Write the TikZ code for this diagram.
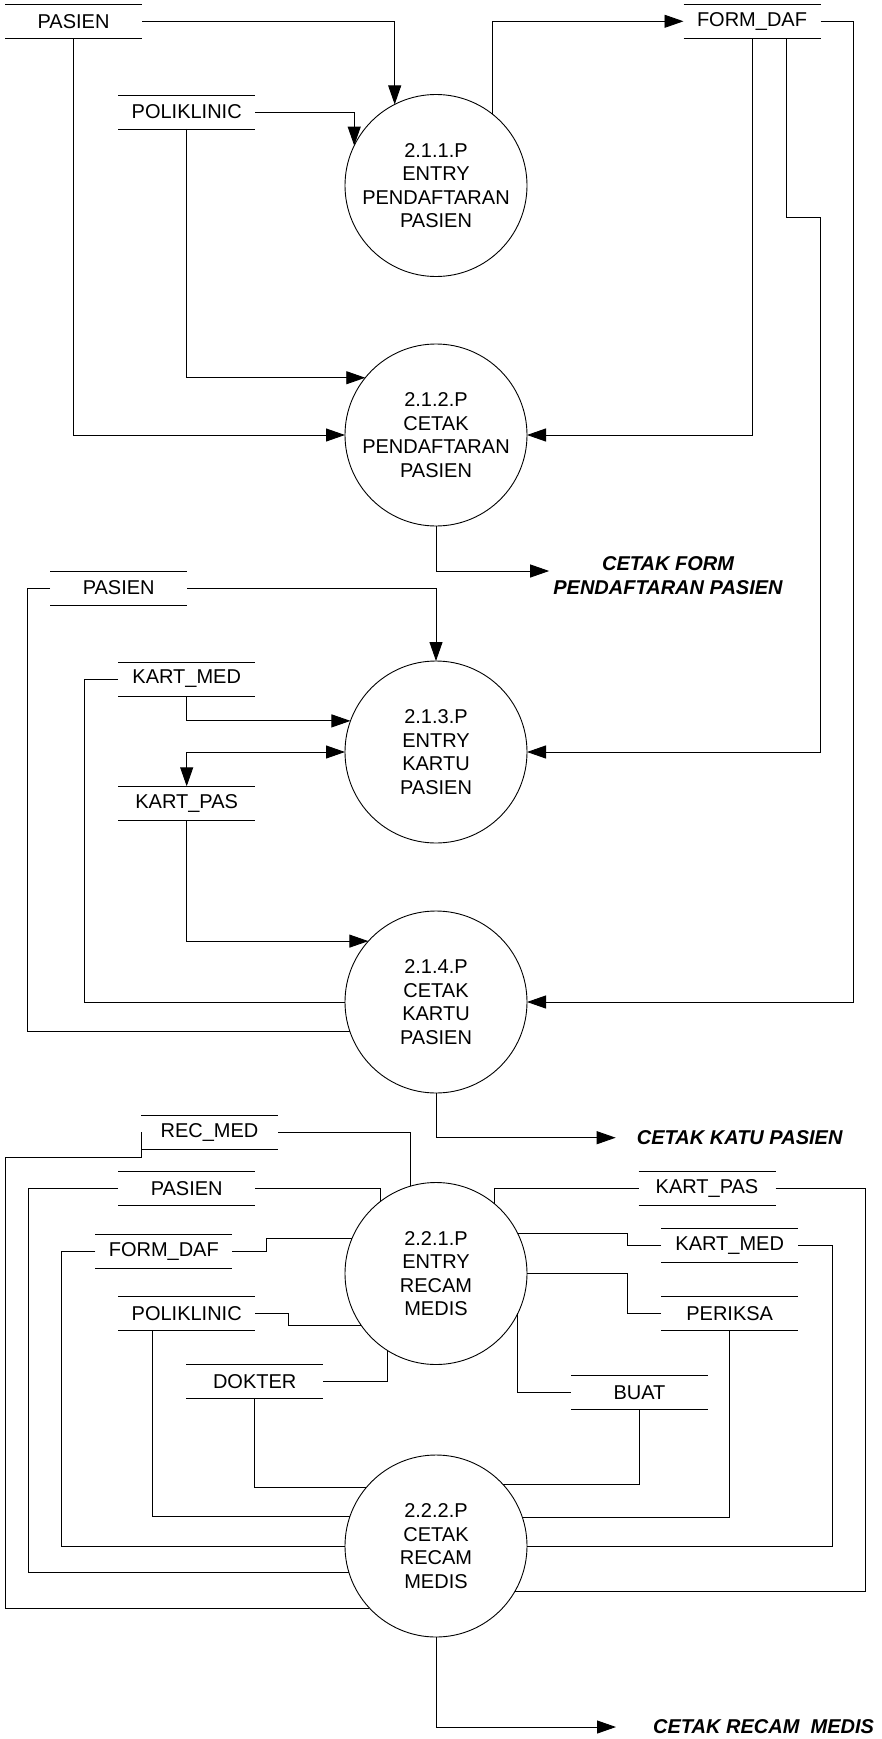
\documentclass[tikz,border=0pt]{standalone}
\usepackage{fontspec}
\setmainfont{Liberation Sans}
\usetikzlibrary{arrows.meta,calc}

\begin{document}
\begin{tikzpicture}[x=1pt,y=-1pt,
  every node/.style={font=\fontsize{20}{23.5}\selectfont},
  process/.style={circle,draw,line width=0.9pt,minimum size=182pt,inner sep=0pt,outer sep=0pt,align=center},
  storeline/.style={draw,line width=0.9pt},
  store/.style={minimum width=137pt,minimum height=34pt,inner sep=0pt,outer sep=0pt,
    append after command={(\tikzlastnode.north west) edge[storeline] (\tikzlastnode.north east)
                          (\tikzlastnode.south west) edge[storeline] (\tikzlastnode.south east)}},
  conn/.style={draw,line width=0.9pt},
  flow/.style={conn,-{Triangle[length=19pt,width=13pt]}},
  flowboth/.style={conn,{Triangle[length=19pt,width=13pt]}-{Triangle[length=19pt,width=13pt]}},
  outlabel/.style={font=\fontsize{20}{24}\selectfont\bfseries\itshape,align=center,inner sep=0pt}
]
\useasboundingbox (0,0) rectangle (882,1739);

% ---------- processes ----------
\node[process] (p1) at (436,185.5) {2.1.1.P\\ENTRY\\PENDAFTARAN\\PASIEN};
\node[process] (p2) at (436,435)   {2.1.2.P\\CETAK\\PENDAFTARAN\\PASIEN};
\node[process] (p3) at (436,752)   {2.1.3.P\\ENTRY\\KARTU\\PASIEN};
\node[process] (p4) at (436,1002)  {2.1.4.P\\CETAK\\KARTU\\PASIEN};
\node[process] (p5) at (436,1273.5){2.2.1.P\\ENTRY\\RECAM\\MEDIS};
\node[process] (p6) at (436,1546)  {2.2.2.P\\CETAK\\RECAM\\MEDIS};

% ---------- data stores ----------
\node[store] (pasA)  at (73.5,21.3)   {PASIEN};
\node[store] (poliA) at (186.7,112)   {POLIKLINIC};
\node[store] (fdA)   at (752,21.3)    {FORM\_DAF};
\node[store] (pasB)  at (118.7,588)   {PASIEN};
\node[store] (kmA)   at (186.7,679)   {KART\_MED};
\node[store] (kpA)   at (186.7,803.3) {KART\_PAS};
\node[store] (rm)    at (209.5,1132)  {REC\_MED};
\node[store] (pasC)  at (186.7,1188.8){PASIEN};
\node[store] (kpB)   at (707,1188.8)  {KART\_PAS};
\node[store] (fdB)   at (163.8,1251)  {FORM\_DAF};
\node[store] (kmB)   at (729.7,1245.7){KART\_MED};
\node[store] (poliB) at (186.7,1313.7){POLIKLINIC};
\node[store] (per)   at (729.7,1313.7){PERIKSA};
\node[store] (dok)   at (254.7,1381.5){DOKTER};
\node[store] (buat)  at (639.5,1392.8){BUAT};

% ---------- outputs ----------
\node[outlabel] (outA) at (668,575.3) {CETAK FORM\\PENDAFTARAN PASIEN};
\node[outlabel,anchor=west] (outB) at (636.7,1137.7) {CETAK KATU PASIEN};
\node[outlabel,anchor=west] (outC) at (653,1727) {CETAK RECAM\ \ MEDIS};

% ---------- registration ----------
\draw[flow] (pasA.east) -| (p1.117.5);
\draw[flow] (poliA.east) -| (p1.154.3);
\draw[flow] (p1.52.3) |- (fdA.west);
\draw[flow] (poliA.south) |- (p2.141);
\draw[flow] (pasA.south) |- (p2.west);
\draw[flow] (fdA.south) |- (p2.east);
\draw[flow] ([xshift=34.7pt]fdA.south) -- ++(0,178.7) -| (p3.east -| fdA.east) -- (p3.east);
\draw[flow] (fdA.east) -- ++(33.3,0) |- (p4.east);
\draw[flow] (p2.south) |- ([xshift=-4pt,yshift=4.3pt]outA.west);

% ---------- patient card ----------
\draw[flow] (pasB.east) -| (p3.north);
\draw[conn] (pasB.west) -- ++(-22.4,0) |- (p4.199.7);
\draw[conn] (kmA.west) -- ++(-33.3,0) |- (p4.west);
\draw[flow] (kmA.south) |- (p3.160.5);
\draw[flowboth] (kpA.north) |- (p3.west);
\draw[flow] (kpA.south) |- (p4.138.5);
\draw[flow] (p4.south) |- ([xshift=-21pt]outB.west);

% ---------- medical record ----------
\draw[conn] (rm.west) -- ++(0,25.4) -- ++(-136,0) |- (p6.223.2);
\draw[conn] (rm.east) -| (p5.106.6);
\draw[conn] (pasC.east) -| (p5.128.8);
\draw[conn] (pasC.west) -- ++(-90,0) |- (p6.197);
\draw[conn] (kpB.west) -| (p5.50.2);
\draw[conn] (kpB.east) -- ++(90,0) |- (p6.330.4);
\draw[conn] (fdB.west) -- ++(-33.7,0) |- (p6.west);
\draw[conn] (fdB.east) -- ++(34,0) |- (p5.157.2);
\draw[conn] (kmB.west) -- ++(-33.4,0) |- (p5.26.6);
\draw[conn] (kmB.east) -- ++(34,0) |- (p6.east);
\draw[conn] (poliB.east) -- ++(33.3,0) |- (p5.215);
\draw[conn] ([xshift=-34pt]poliB.south) |- (p6.161.2);
\draw[conn] (per.west) -- ++(-33.4,0) |- (p5.east);
\draw[conn] (per.south) |- (p6.18.8);
\draw[conn] (dok.east) -| (p5.238.4);
\draw[conn] (dok.south) |- (p6.140.6);
\draw[conn] (p5.334.7) |- (buat.west);
\draw[conn] (buat.south) |- (p6.43.2);
\draw[flow] (p6.south) |- ([xshift=-37pt]outC.west);
\end{tikzpicture}
\end{document}
